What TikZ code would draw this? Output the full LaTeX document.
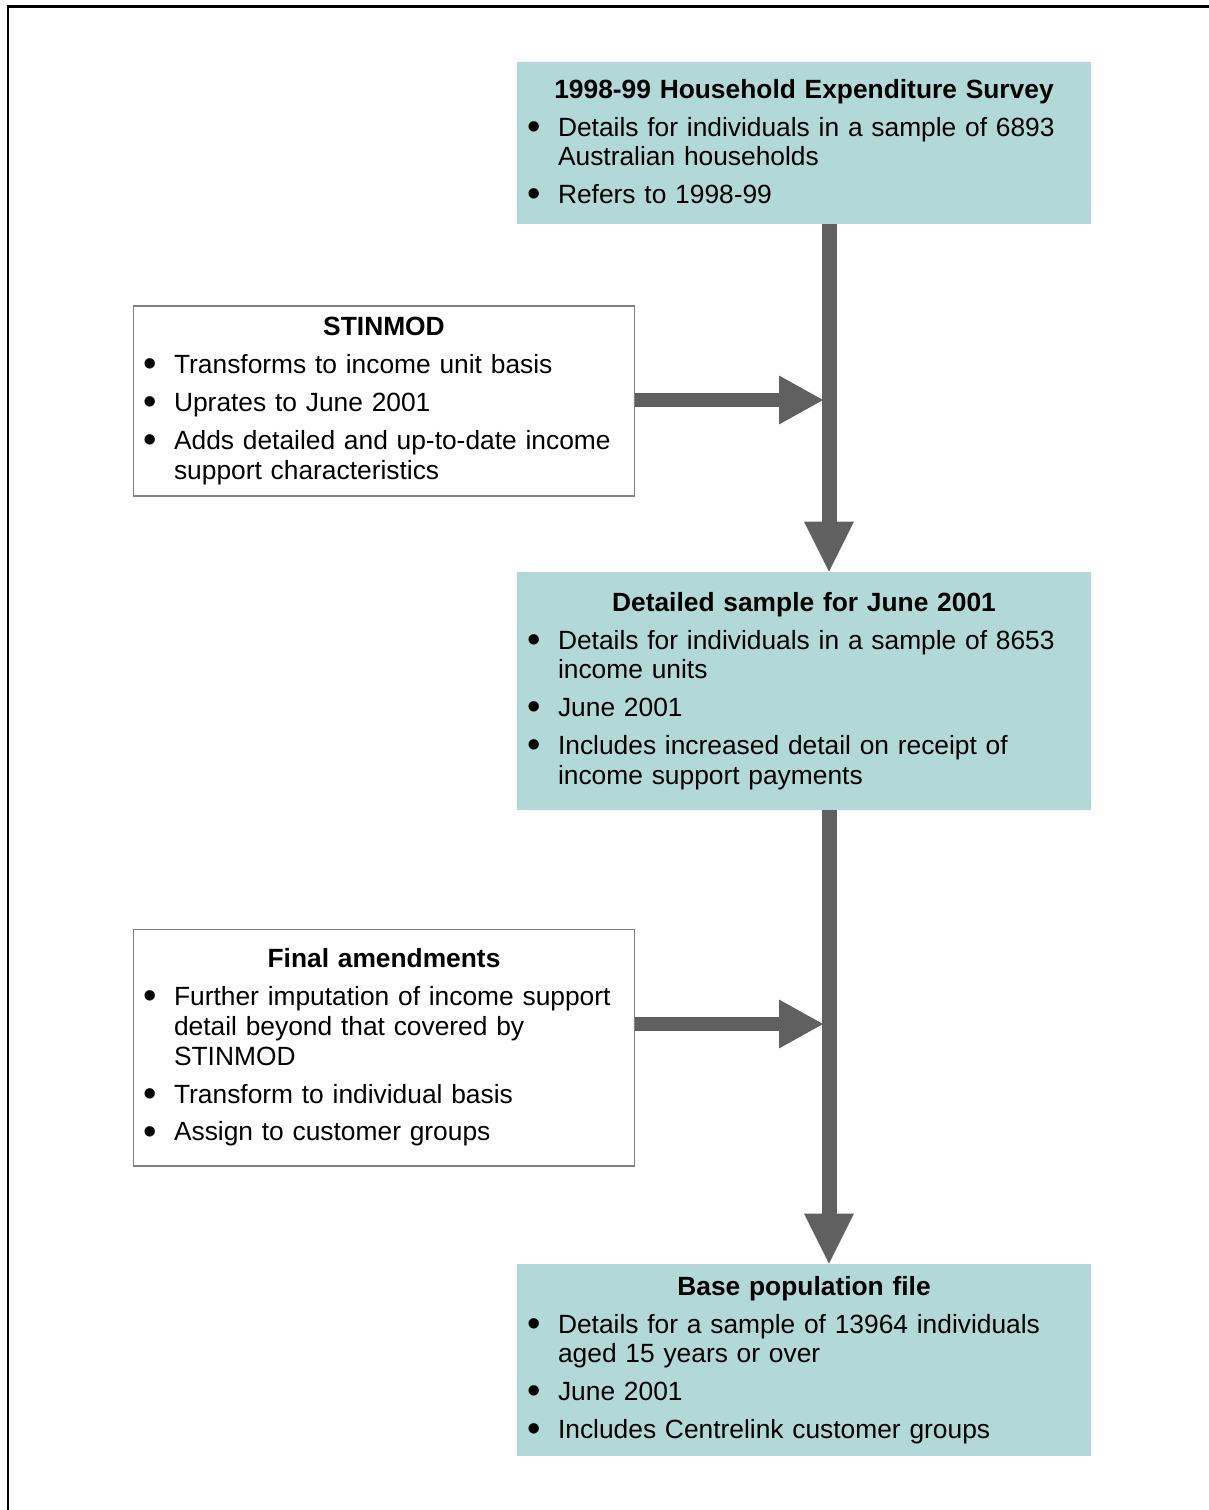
\documentclass[tikz,border=0pt]{standalone}
\usepackage{xcolor}
\usepackage{fontspec}
\usepackage{graphicx}
\setmainfont{Liberation Sans}
\usetikzlibrary{arrows.meta}

\definecolor{boxteal}{RGB}{178,216,216}
\definecolor{arrowgrey}{RGB}{96,96,96}
\definecolor{edgegrey}{RGB}{128,128,128}

\newcommand{\boxtitle}[1]{{\centering\bfseries #1\par}}
\newcommand{\bpoint}[1]{\par\vspace{4.5pt}\hangindent=0.62cm\hangafter=1\noindent\makebox[0.62cm][l]{\raisebox{-0.12em}{\scalebox{1.45}{\textbullet}}}#1\par}

\tikzset{
  databox/.style={rectangle, fill=boxteal, minimum width=11.48cm, text width=11.08cm, inner xsep=0.2cm, align=left, font=\fontsize{15}{17}\selectfont},
  stepbox/.style={rectangle, draw=edgegrey, line width=0.6pt, fill=white, minimum width=10.04cm, text width=9.64cm, inner xsep=0.2cm, align=left, font=\fontsize{15}{17}\selectfont},
  flow/.style={draw=arrowgrey, line width=0.3cm, -{Triangle[length=1cm, width=1cm, line width=0pt]}},
  feed/.style={draw=arrowgrey, line width=0.28cm, -{Triangle[length=0.88cm, width=0.98cm, line width=0pt]}}
}

\begin{document}
\begin{tikzpicture}[x=0.02cm, y=-0.02cm]
        \useasboundingbox (0,0) rectangle (1209,1510);

        % Frame
        \draw[line width=0.06cm] (8,1510) -- (8,7) -- (1209,7);

        % Survey
        \node[databox, minimum height=3.24cm] (hes) at (804,143) {\boxtitle{1998-99 Household Expenditure Survey}
          \bpoint{Details for individuals in a sample of 6893\newline Australian households}
          \bpoint{Refers to 1998-99}};

        % STINMOD
        \node[stepbox, minimum height=3.8cm] (stin) at (384,401) {\boxtitle{STINMOD}
          \bpoint{Transforms to income unit basis}
          \bpoint{Uprates to June 2001}
          \bpoint{Adds detailed and up-to-date income\newline support characteristics}};

        % Detailed sample
        \node[databox, minimum height=4.76cm] (june) at (804,691) {\boxtitle{Detailed sample for June 2001}
          \bpoint{Details for individuals in a sample of 8653\newline income units}
          \bpoint{June 2001}
          \bpoint{Includes increased detail on receipt of\newline income support payments}};

        % Final amendments
        \node[stepbox, minimum height=4.74cm] (final) at (384,1047.5) {\boxtitle{Final amendments}
          \bpoint{Further imputation of income support\newline detail beyond that covered by\newline STINMOD}
          \bpoint{Transform to individual basis}
          \bpoint{Assign to customer groups}};

        % Base population
        \node[databox, minimum height=3.84cm] (base) at (804,1360) {\boxtitle{Base population file}
          \bpoint{Details for a sample of 13964 individuals\newline aged 15 years or over}
          \bpoint{June 2001}
          \bpoint{Includes Centrelink customer groups}};

        % Joins on the spine
        \coordinate (spine) at (829,0);
        \coordinate (j1) at (823,400);
        \coordinate (j2) at (823,1024);

        % Arrows
        \draw[flow] (hes.south -| spine) -- (june.north -| spine);
        \draw[flow] (june.south -| spine) -- (base.north -| spine);
        \draw[feed] (stin.east |- j1) -- (j1);
        \draw[feed] (final.east |- j2) -- (j2);
    \end{tikzpicture}
\end{document}
